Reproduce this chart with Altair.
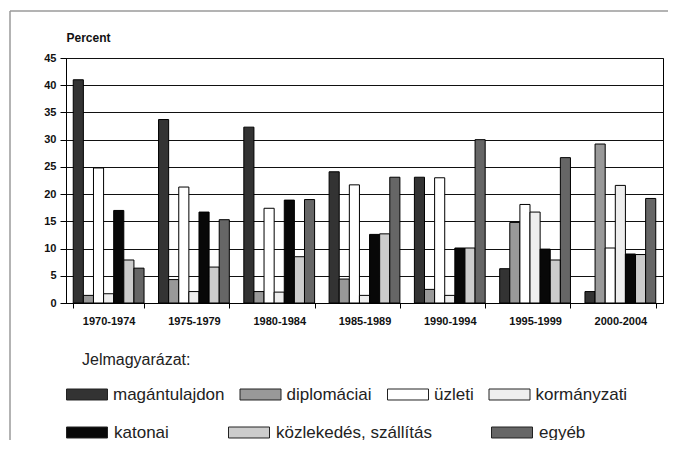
import altair as alt
import pandas as pd

periods = ["1970-1974", "1975-1979", "1980-1984", "1985-1989",
           "1990-1994", "1995-1999", "2000-2004"]
categories = ["magántulajdon", "diplomáciai", "üzleti", "kormányzati",
              "katonai", "közlekedés, szállítás", "egyéb"]
colors = ["#333333", "#999999", "#ffffff", "#eeeeee",
          "#080808", "#cccccc", "#666666"]
legend_heading = ["Jelmagyarázat:"]

magantulajdon = [41.0, 33.7, 32.3, 24.1, 23.1, 6.3, 2.1]
diplomaciai = [1.4, 4.3, 2.1, 4.4, 2.5, 14.8, 29.2]
uzleti = [24.8, 21.3, 17.4, 21.7, 23.0, 18.1, 10.1]
kormanyzati = [1.7, 2.1, 2.0, 1.4, 1.4, 16.7, 21.6]
katonai = [17.0, 16.7, 18.9, 12.6, 10.1, 9.9, 9.0]
kozlekedes = [7.9, 6.6, 8.5, 12.7, 10.1, 7.9, 8.9]
egyeb = [6.4, 15.3, 19.0, 23.1, 30.0, 26.7, 19.2]
y_ticks = [0, 5, 10, 15, 20, 25, 30, 35, 40, 45]

series = [magantulajdon, diplomaciai, uzleti, kormanyzati,
          katonai, kozlekedes, egyeb]
rows = []
for cat, vals in zip(categories, series):
    for p, v in zip(periods, vals):
        rows.append({"period": p, "cat": cat, "value": v})
df = pd.DataFrame(rows)

row1 = categories[:4]
row2 = categories[4:]

FONT = "Liberation Sans"

x_enc = alt.X("period:N", sort=periods,
              scale=alt.Scale(paddingInner=0.17, paddingOuter=0.085),
              axis=alt.Axis(title=None, labelAngle=0, labelFont=FONT,
                            labelFontWeight="bold", labelFontSize=11,
                            labelColor="#111", tickBand="extent", tickSize=5,
                            labelPadding=7, domainColor="black",
                            tickColor="black", grid=False))
xo_enc = alt.XOffset("cat:N", sort=categories,
                     scale=alt.Scale(domain=categories, paddingInner=0,
                                     paddingOuter=0))
y_enc = alt.Y("value:Q", scale=alt.Scale(domain=[0, 45], nice=False),
              axis=alt.Axis(values=y_ticks, title="Percent", titleAngle=0,
                            titleX=0, titleY=-21, titleAlign="left",
                            titleBaseline="middle", titleFont=FONT,
                            titleFontSize=12, titleFontWeight="bold",
                            titleColor="#111",
                            labelFont=FONT, labelFontSize=11,
                            labelFontWeight="bold", labelColor="#111",
                            tickSize=6, labelPadding=4, domainColor="black",
                            tickColor="black", grid=True, gridColor="#111",
                            gridWidth=1))

sym = "M-1,-0.268H1V0.268H-1Z"


def legend(y, pad, offset):
    return alt.Legend(orient="none", legendX=0, legendY=y,
                      direction="horizontal", columns=4, gridAlign="none",
                      columnPadding=pad, symbolType=sym, symbolSize=1681,
                      symbolStrokeColor="#222", symbolStrokeWidth=1,
                      symbolOpacity=1, labelFont=FONT, labelFontSize=17,
                      labelColor="#222", labelOffset=offset, title=None,
                      padding=0)


base = alt.Chart(df)
bars_a = base.transform_filter(
    alt.FieldOneOfPredicate(field="cat", oneOf=row1)
).mark_bar(stroke="black", strokeWidth=1).encode(
    x=x_enc, xOffset=xo_enc, y=y_enc,
    fill=alt.Fill("cat:N", sort=row1,
                  scale=alt.Scale(domain=row1, range=colors[:4]),
                  legend=legend(315.5, 12.5, 5)))
bars_b = base.transform_filter(
    alt.FieldOneOfPredicate(field="cat", oneOf=row2)
).mark_bar(stroke="black", strokeWidth=1).encode(
    x=x_enc, xOffset=xo_enc, y=y_enc,
    fill=alt.Fill("cat:N", sort=row2,
                  scale=alt.Scale(domain=row2, range=colors[4:]),
                  legend=legend(353.5, 57, 6)))

heading = alt.Chart(pd.DataFrame({"t": legend_heading})).mark_text(
    align="left", baseline="middle", font=FONT, fontSize=16, color="#222"
).encode(text="t:N", x=alt.value(16), y=alt.value(302))

frame_df = pd.DataFrame({"f": [0]})
frame_left = alt.Chart(frame_df).mark_rule(color="#9a9a9a", strokeWidth=1.5).encode(
    x=alt.value(-56), y=alt.value(-47), y2=alt.value(384))
frame_top = alt.Chart(frame_df).mark_rule(color="#9a9a9a", strokeWidth=1.5).encode(
    x=alt.value(-56), x2=alt.value(620), y=alt.value(-47))

chart = alt.layer(frame_left, frame_top, bars_a, bars_b, heading).resolve_scale(
    fill="independent").resolve_legend(fill="independent").properties(
    width=597, height=245,
    autosize=alt.AutoSizeParams(type="none"),
    padding={"left": 58, "top": 50, "right": 5, "bottom": 137},
).configure_view(stroke="black", strokeWidth=1)

chart.save("out.html", embed_options={"renderer": "svg", "actions": False})
